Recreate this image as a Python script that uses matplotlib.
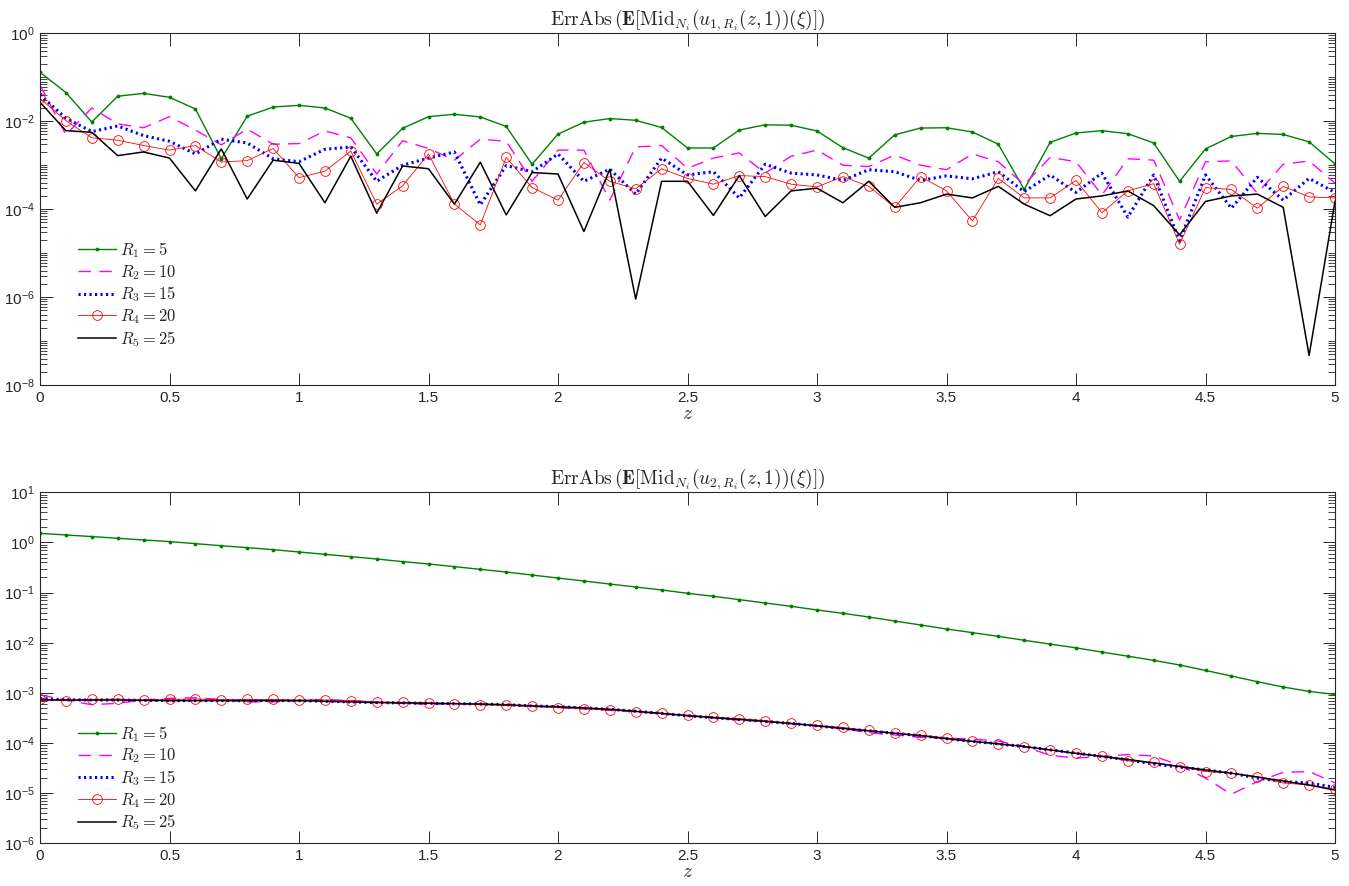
import numpy as np
import matplotlib
matplotlib.use("Agg")
import matplotlib.pyplot as plt
from matplotlib.ticker import FixedLocator, LogLocator, NullFormatter, FuncFormatter

plt.rcParams['font.family'] = ['Liberation Sans', 'DejaVu Sans']
plt.rcParams['mathtext.fontset'] = 'cm'

z = [round(0.1 * i, 1) for i in range(51)]

# ---- top panel: u1 ----
top_R1 = [0.13, 0.045, 0.0096, 0.037, 0.043, 0.035, 0.019, 1.4e-3, 0.013, 0.021,
          0.023, 0.020, 0.0117, 1.8e-3, 6.9e-3, 0.0127, 0.0144, 0.0125, 7.6e-3, 1.05e-3,
          5.1e-3, 9.5e-3, 0.0115, 0.0105, 7.2e-3, 2.46e-3, 2.46e-3, 6.3e-3, 8.3e-3, 8.1e-3,
          6.0e-3, 2.5e-3, 1.45e-3, 4.9e-3, 7.0e-3, 7.1e-3, 5.7e-3, 3.0e-3, 2.8e-4, 3.3e-3,
          5.4e-3, 6.1e-3, 5.2e-3, 3.2e-3, 4.3e-4, 2.35e-3, 4.5e-3, 5.3e-3, 5.0e-3, 3.4e-3,
          1.07e-3]
top_R2 = [0.067, 4.9e-3, 0.020, 8.7e-3, 7.1e-3, 0.0127, 6.3e-3, 2.9e-3, 6.6e-3, 3.0e-3,
          3.1e-3, 6.0e-3, 4.2e-3, 6.3e-4, 3.6e-3, 2.4e-3, 1.3e-3, 3.9e-3, 3.5e-3, 4.3e-4,
          2.2e-3, 2.2e-3, 1.6e-4, 2.6e-3, 2.8e-3, 8.5e-4, 1.45e-3, 1.9e-3, 6.6e-4, 1.6e-3,
          2.2e-3, 1.0e-3, 9.3e-4, 1.7e-3, 1.0e-3, 7.9e-4, 1.8e-3, 1.2e-3, 3.6e-4, 1.5e-3,
          1.2e-3, 2.1e-4, 1.4e-3, 1.3e-3, 5.7e-5, 1.2e-3, 1.25e-3, 2.3e-4, 1.05e-3, 1.25e-3,
          3.9e-4]
top_R3 = [0.040, 0.0117, 5.8e-3, 7.8e-3, 4.7e-3, 3.5e-3, 1.8e-3, 3.9e-3, 3.2e-3, 1.4e-3,
          1.2e-3, 2.3e-3, 2.6e-3, 4.3e-4, 1.0e-3, 1.45e-3, 2.0e-3, 1.25e-4, 9.8e-4, 7.1e-4,
          1.8e-3, 4.3e-4, 8.1e-4, 2.2e-4, 1.45e-3, 6.0e-4, 7.1e-4, 1.8e-4, 1.05e-3, 6.6e-4,
          6.0e-4, 4.5e-4, 7.9e-4, 7.1e-4, 4.5e-4, 5.7e-4, 4.9e-4, 7.1e-4, 2.5e-4, 6.0e-4,
          2.4e-4, 6.6e-4, 6.6e-5, 6.0e-4, 1.9e-5, 6.0e-4, 1.05e-4, 5.3e-4, 1.6e-4, 5.0e-4,
          2.4e-4]
top_R4 = [0.033, 0.0103, 4.2e-3, 3.7e-3, 2.8e-3, 2.2e-3, 2.8e-3, 1.18e-3, 1.27e-3, 2.4e-3,
          5.2e-4, 7.3e-4, 2.1e-3, 1.3e-4, 3.4e-4, 1.8e-3, 1.3e-4, 4.4e-5, 1.5e-3, 3.1e-4,
          1.6e-4, 1.15e-3, 4.3e-4, 2.9e-4, 8.3e-4, 5.0e-4, 3.7e-4, 5.8e-4, 5.5e-4, 3.7e-4,
          3.2e-4, 5.5e-4, 3.3e-4, 1.1e-4, 5.5e-4, 2.6e-4, 5.4e-5, 5.0e-4, 1.8e-4, 1.8e-4,
          4.5e-4, 8.3e-5, 2.6e-4, 3.8e-4, 1.6e-5, 3.1e-4, 2.8e-4, 1.05e-4, 3.3e-4, 1.9e-4,
          1.8e-4]
top_R5 = [0.027, 6.1e-3, 5.6e-3, 1.65e-3, 2.0e-3, 1.45e-3, 2.6e-4, 2.35e-3, 1.7e-4, 1.3e-3,
          1.1e-3, 1.4e-4, 1.6e-3, 8.1e-5, 9.6e-4, 8.3e-4, 1.3e-4, 1.17e-3, 7.4e-5, 6.8e-4,
          6.3e-4, 3.1e-5, 8.1e-4, 9e-7, 4.3e-4, 4.3e-4, 7.2e-5, 5.8e-4, 6.8e-5, 2.6e-4,
          3.0e-4, 1.4e-4, 4.3e-4, 1.1e-4, 1.4e-4, 2.2e-4, 1.8e-4, 3.3e-4, 1.3e-4, 7.1e-5,
          1.7e-4, 2.0e-4, 2.6e-4, 1.2e-4, 2.6e-5, 1.5e-4, 2.0e-4, 2.2e-4, 1.1e-4, 4.7e-8,
          1.5e-4]

# ---- bottom panel: u2 ----
bot_R1 = [1.52, 1.41, 1.31, 1.21, 1.12, 1.04, 0.946, 0.86, 0.787, 0.718,
          0.645, 0.58, 0.52, 0.468, 0.414, 0.372, 0.329, 0.291, 0.257, 0.224,
          0.195, 0.170, 0.148, 0.129, 0.113, 0.0967, 0.0843, 0.0723, 0.062, 0.0533,
          0.045, 0.0386, 0.0326, 0.0271, 0.0226, 0.0188, 0.0159, 0.0134, 0.0112, 9.4e-3,
          7.9e-3, 6.5e-3, 5.4e-3, 4.45e-3, 3.6e-3, 2.8e-3, 2.17e-3, 1.67e-3, 1.31e-3, 1.07e-3,
          9.3e-4]
bot_R2 = [9.1e-4, 7.2e-4, 5.8e-4, 6.2e-4, 7.2e-4, 7.8e-4, 8.0e-4, 7.4e-4, 6.6e-4, 6.6e-4,
          7.0e-4, 7.4e-4, 7.0e-4, 6.5e-4, 6.2e-4, 5.9e-4, 6.1e-4, 5.9e-4, 5.7e-4, 5.4e-4,
          5.1e-4, 4.8e-4, 4.5e-4, 4.2e-4, 3.8e-4, 3.5e-4, 3.2e-4, 2.85e-4, 2.7e-4, 2.45e-4,
          2.2e-4, 1.95e-4, 1.6e-4, 1.45e-4, 1.3e-4, 1.25e-4, 1.2e-4, 1.1e-4, 8.5e-5, 5.7e-5,
          5.0e-5, 5.4e-5, 5.9e-5, 5.5e-5, 3.6e-5, 2.0e-5, 9.5e-6, 1.7e-5, 2.6e-5, 2.7e-5,
          1.6e-5]
bot_R3 = [7.7e-4, 7.3e-4, 7.2e-4, 7.2e-4, 7.1e-4, 7.0e-4, 7.0e-4, 7.0e-4, 7.0e-4, 7.0e-4,
          7.0e-4, 6.8e-4, 6.6e-4, 6.4e-4, 6.3e-4, 6.2e-4, 6.1e-4, 6.0e-4, 5.8e-4, 5.5e-4,
          5.3e-4, 5.0e-4, 4.7e-4, 4.3e-4, 3.9e-4, 3.5e-4, 3.2e-4, 2.95e-4, 2.7e-4, 2.45e-4,
          2.2e-4, 1.95e-4, 1.75e-4, 1.56e-4, 1.4e-4, 1.22e-4, 1.08e-4, 9.6e-5, 8.5e-5, 7.3e-5,
          6.3e-5, 5.4e-5, 4.6e-5, 3.8e-5, 3.3e-5, 2.9e-5, 2.5e-5, 2.0e-5, 1.7e-5, 1.6e-5,
          1.3e-5]
bot_R4 = [7.55e-4, 7.0e-4, 7.4e-4, 7.55e-4, 7.2e-4, 7.4e-4, 7.55e-4, 7.3e-4, 7.4e-4, 7.4e-4,
          7.2e-4, 7.2e-4, 7.0e-4, 6.6e-4, 6.5e-4, 6.3e-4, 6.1e-4, 5.8e-4, 5.6e-4, 5.4e-4,
          5.1e-4, 4.8e-4, 4.55e-4, 4.2e-4, 3.9e-4, 3.6e-4, 3.3e-4, 3.05e-4, 2.8e-4, 2.46e-4,
          2.24e-4, 2.04e-4, 1.78e-4, 1.58e-4, 1.44e-4, 1.26e-4, 1.08e-4, 9.7e-5, 8.5e-5, 7.2e-5,
          6.3e-5, 5.5e-5, 4.4e-5, 4.1e-5, 3.4e-5, 2.7e-5, 2.5e-5, 2.1e-5, 1.6e-5, 1.45e-5,
          1.2e-5]
bot_R5 = [7.2e-4, 7.2e-4, 7.2e-4, 7.2e-4, 7.1e-4, 7.0e-4, 7.0e-4, 7.0e-4, 7.0e-4, 7.0e-4,
          7.0e-4, 6.8e-4, 6.6e-4, 6.4e-4, 6.3e-4, 6.2e-4, 6.1e-4, 6.0e-4, 5.8e-4, 5.5e-4,
          5.3e-4, 5.0e-4, 4.7e-4, 4.3e-4, 3.9e-4, 3.5e-4, 3.2e-4, 2.95e-4, 2.7e-4, 2.45e-4,
          2.2e-4, 1.95e-4, 1.75e-4, 1.56e-4, 1.4e-4, 1.22e-4, 1.08e-4, 9.6e-5, 8.5e-5, 7.3e-5,
          6.2e-5, 5.4e-5, 4.7e-5, 4.0e-5, 3.4e-5, 2.9e-5, 2.5e-5, 2.1e-5, 1.75e-5, 1.45e-5,
          1.15e-5]

labels = [r'$R_1 = 5$', r'$R_2 = 10$', r'$R_3 = 15$', r'$R_4 = 20$', r'$R_5 = 25$']
titles = [r'$\mathrm{ErrAbs}\,(\mathbf{E}[\mathrm{Mid}_{N_i}(u_{1,R_i}(z,1))(\xi)])$',
          r'$\mathrm{ErrAbs}\,(\mathbf{E}[\mathrm{Mid}_{N_i}(u_{2,R_i}(z,1))(\xi)])$']
xticks = [0, 0.5, 1, 1.5, 2, 2.5, 3, 3.5, 4, 4.5, 5]

W, H = 1349, 886
fig = plt.figure(figsize=(W / 100, H / 100), dpi=100)
axc = '#262626'

def ax_rect(l, t, r, b):
    return [l / W, 1 - b / H, (r - l) / W, (b - t) / H]

ax1 = fig.add_axes(ax_rect(40, 33.3, 1335, 385))
ax2 = fig.add_axes(ax_rect(40, 492.3, 1335, 843.3))

def sup_fmt(v, pos):
    e = int(round(np.log10(v)))
    return r'$\mathregular{10^{%d}}$' % e

panels = [
    (ax1, [top_R1, top_R2, top_R3, top_R4, top_R5], (1e-8, 1e0), [1e-8, 1e-6, 1e-4, 1e-2, 1e0], 0.412),
    (ax2, [bot_R1, bot_R2, bot_R3, bot_R4, bot_R5], (1e-6, 1e1), [1e-6, 1e-5, 1e-4, 1e-3, 1e-2, 1e-1, 1e0, 1e1], 0.340),
]

for i, (ax, series, ylim, yt, legy) in enumerate(panels):
    r1, r2, r3, r4, r5 = series
    ax.plot(z, r1, color='#008000', lw=1.0, marker='.', ms=3.5, label=labels[0])
    ax.plot(z, r2, color='#ff00ff', lw=1.0, ls=(0, (9, 6)), label=labels[1])
    ax.plot(z, r3, color='#0000ff', lw=2.2, ls=(0, (0.7, 1.1)), label=labels[2])
    ax.plot(z, r4, color='#ff0000', lw=0.6, marker='o', ms=7, mfc='none', mew=0.6, label=labels[3])
    ax.plot(z, r5, color='black', lw=1.1, label=labels[4])
    ax.set_yscale('log')
    ax.set_xlim(0, 5)
    ax.set_ylim(*ylim)
    ax.xaxis.set_major_locator(FixedLocator(xticks))
    ax.xaxis.set_major_formatter(FuncFormatter(lambda v, p: '%g' % v))
    ax.yaxis.set_major_locator(FixedLocator(yt))
    ax.yaxis.set_major_formatter(FuncFormatter(sup_fmt))
    ax.yaxis.set_minor_locator(LogLocator(base=10, subs=np.arange(1, 10), numticks=100))
    ax.yaxis.set_minor_formatter(NullFormatter())
    ax.tick_params(which='major', direction='in', length=9, width=0.7, top=True, right=True,
                   labelsize=11, colors=axc, pad=4)
    ax.tick_params(which='minor', direction='in', length=5, width=0.6, top=True, right=True, colors=axc)
    for s in ax.spines.values():
        s.set_color(axc)
        s.set_linewidth(0.8)
    ax.set_title(titles[i], fontsize=14, color=axc, pad=5)
    ax.set_xlabel(r'$z$', fontsize=14, color=axc, labelpad=1)
    leg = ax.legend(loc='upper left', bbox_to_anchor=((78 - 40) / 1295, legy), frameon=False,
                    fontsize=12, borderpad=0, borderaxespad=0, handlelength=2.3,
                    handletextpad=0.25, labelspacing=0.17)
    for t in leg.get_texts():
        t.set_color(axc)

fig.savefig('out.png', dpi=100)
